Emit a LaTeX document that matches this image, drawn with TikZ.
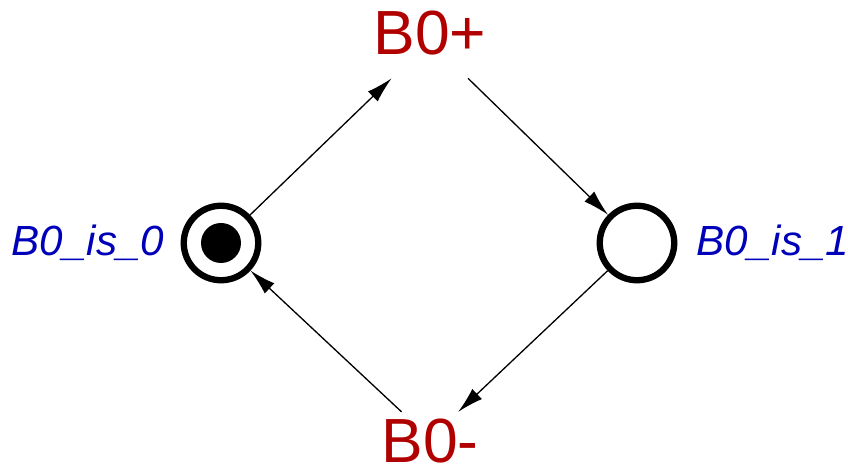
\documentclass[tikz,border=0pt]{standalone}
\usepackage{fontspec}
\setmainfont{Liberation Sans}
\usepackage{xcolor}
\usepackage{tikz}
\usetikzlibrary{arrows.meta,positioning}
\definecolor{trRed}{HTML}{B00000}
\definecolor{plBlue}{HTML}{0000B8}

\begin{document}
\begin{tikzpicture}[
    place/.style={draw, circle, line width=3.6pt, minimum size=1.49cm, inner sep=0pt},
    trans/.style={font=\fontsize{35.5}{37}\selectfont, text=trRed, inner sep=4pt},
    plabel/.style={font=\fontsize{24}{26}\selectfont\itshape, text=plBlue, inner sep=0pt},
    arc/.style={line width=0.75pt, -{Latex[length=0.52cm,width=0.28cm]}}
  ]
  \useasboundingbox (0,0) rectangle (16.96,9.44);
  \node[place, label={[plabel, label distance=0.32cm]left:B0\_is\_0}] (b0is0) at (4.42,4.58) {};
  \node[place, label={[plabel, label distance=0.38cm]right:B0\_is\_1}] (b0is1) at (12.74,4.58) {};
  \fill (b0is0) circle (0.4cm);
  \node[trans, anchor=base, text depth=0.32cm] (b0plus) at (8.6,8.34) {B0+};
  \node[trans, anchor=base, inner sep=1pt, text height=0.98cm, text depth=0cm] (b0minus) at (8.6,0.18) {B0-};
  \draw[arc] (b0is0) -- (b0plus);
  \draw[arc] (b0plus) -- (b0is1);
  \draw[arc] (b0is1) -- (b0minus);
  \draw[arc] (b0minus) -- (b0is0);
\end{tikzpicture}
\end{document}
